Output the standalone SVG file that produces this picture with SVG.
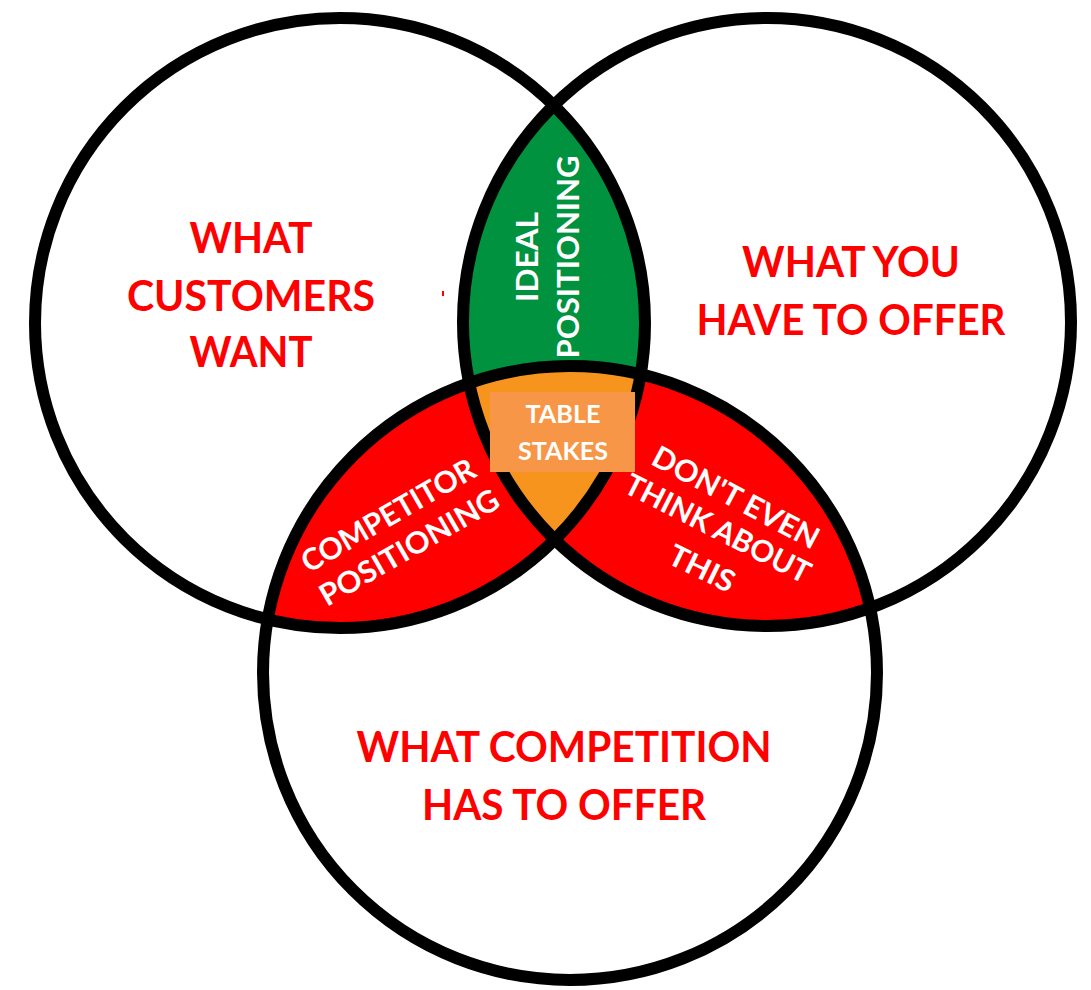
<svg xmlns="http://www.w3.org/2000/svg" width="1091" height="990" viewBox="0 0 1091 990">
  <style>
    .ring { fill: none; stroke: #000; stroke-width: 12; }
    .big { font-family: Lato, "Open Sans", "Liberation Sans", sans-serif; font-weight: bold; font-size: 42px; fill: #FF0000; text-anchor: middle; }
    .small { font-family: Lato, "Open Sans", "Liberation Sans", sans-serif; font-weight: bold; font-size: 30px; fill: #FFFFFF; text-anchor: middle; }
    .stake { font-family: Lato, "Open Sans", "Liberation Sans", sans-serif; font-weight: bold; font-size: 25px; fill: #FFFFFF; text-anchor: middle; }
  </style>
  <defs>
    <clipPath id="clipL"><circle cx="340" cy="323" r="305"/></clipPath>
    <clipPath id="clipR"><circle cx="767" cy="322" r="304"/></clipPath>
  </defs>
  <rect x="0" y="0" width="1091" height="990" fill="#FFFFFF"/>

  <g id="regions">
    <g id="ideal-region" clip-path="url(#clipL)">
      <circle cx="767" cy="322" r="304" fill="#00923F"/>
    </g>
    <g id="competitor-region" clip-path="url(#clipL)">
      <circle cx="570" cy="673" r="307" fill="#FF0000"/>
    </g>
    <g id="dont-region" clip-path="url(#clipR)">
      <circle cx="570" cy="673" r="307" fill="#FF0000"/>
    </g>
    <g id="stakes-region" clip-path="url(#clipL)">
      <g clip-path="url(#clipR)">
        <circle cx="570" cy="673" r="307" fill="#F7941D"/>
      </g>
    </g>
  </g>

  <g id="connectors">
    <circle id="circle-customers" class="ring" cx="340" cy="323" r="305"/>
    <circle id="circle-you" class="ring" cx="767" cy="322" r="304"/>
    <circle id="circle-competition" class="ring" cx="570" cy="673" r="307"/>
  </g>

  <g id="node-customers">
    <text class="big" x="251" y="253" textLength="123" lengthAdjust="spacingAndGlyphs">WHAT</text>
    <text class="big" x="251" y="311" textLength="248" lengthAdjust="spacingAndGlyphs">CUSTOMERS</text>
    <text class="big" x="251" y="367" textLength="123" lengthAdjust="spacingAndGlyphs">WANT</text>
  </g>
  <g id="node-you">
    <text class="big" x="851" y="277" textLength="218" lengthAdjust="spacingAndGlyphs">WHAT YOU</text>
    <text class="big" x="851" y="335" textLength="309" lengthAdjust="spacingAndGlyphs">HAVE TO OFFER</text>
  </g>
  <g id="node-competition">
    <text class="big" x="564" y="762" textLength="415" lengthAdjust="spacingAndGlyphs">WHAT COMPETITION</text>
    <text class="big" x="564" y="820" textLength="284" lengthAdjust="spacingAndGlyphs">HAS TO OFFER</text>
  </g>
  <g id="node-ideal">
    <text class="small" transform="translate(527,257) rotate(-90)" x="0" y="11" textLength="90" lengthAdjust="spacingAndGlyphs">IDEAL</text>
    <text class="small" transform="translate(568,257) rotate(-90)" x="0" y="11" textLength="203" lengthAdjust="spacingAndGlyphs">POSITIONING</text>
  </g>
  <g id="node-competitor">
    <text class="small" transform="translate(388,515) rotate(-30)" x="0" y="11" textLength="196" lengthAdjust="spacingAndGlyphs">COMPETITOR</text>
    <text class="small" transform="translate(409,547) rotate(-30)" x="0" y="11" textLength="202" lengthAdjust="spacingAndGlyphs">POSITIONING</text>
  </g>
  <g id="node-dont">
    <text class="small" transform="translate(736,497) rotate(28)" x="0" y="11" textLength="184" lengthAdjust="spacingAndGlyphs">DON'T EVEN</text>
    <text class="small" transform="translate(718,528) rotate(27)" x="0" y="11" textLength="204" lengthAdjust="spacingAndGlyphs">THINK ABOUT</text>
    <text class="small" transform="translate(702,568) rotate(26)" x="0" y="11" textLength="70" lengthAdjust="spacingAndGlyphs">THIS</text>
  </g>
  <g id="node-stakes">
    <rect x="490" y="392" width="145" height="80" fill="#F79646"/>
    <text class="stake" x="563" y="423" textLength="75" lengthAdjust="spacingAndGlyphs">TABLE</text>
    <text class="stake" x="563" y="460" textLength="90" lengthAdjust="spacingAndGlyphs">STAKES</text>
  </g>
  <rect x="442" y="291" width="2" height="5" fill="#FF0000"/>
</svg>
